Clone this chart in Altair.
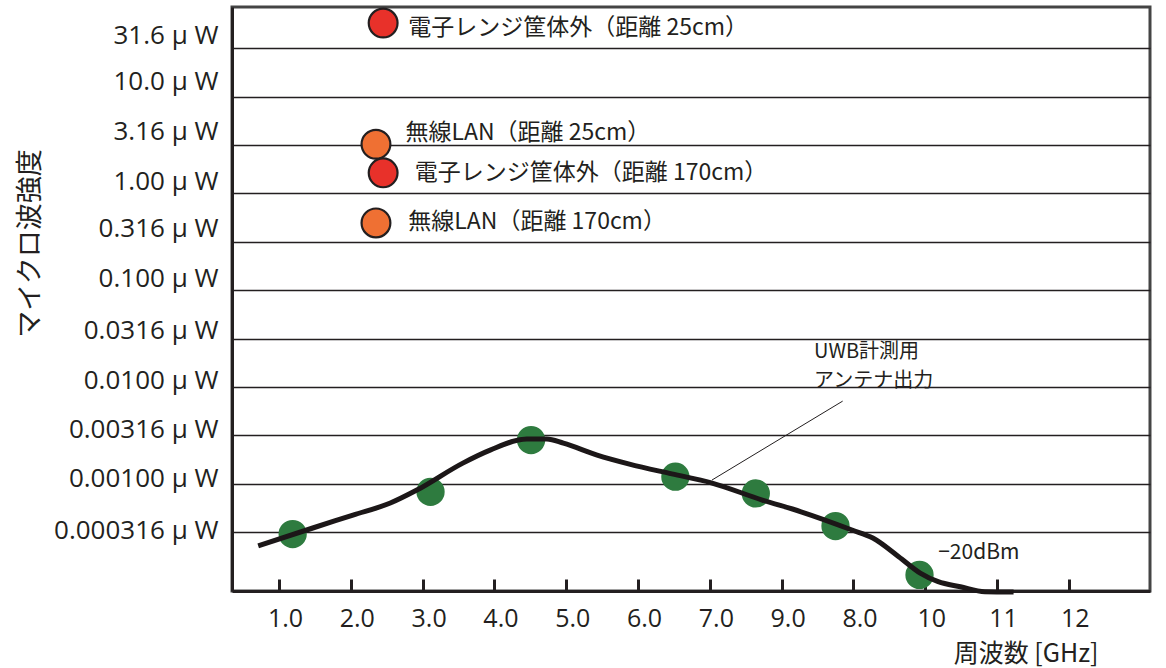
import altair as alt
import pandas as pd

INK = "#231f20"

# UWB antenna output: measured points (GHz, microwatts)
uwb_freq = [1.19, 3.11, 4.51, 6.52, 7.64, 8.75, 9.92]
uwb_power = [0.000301, 0.000824, 0.00282, 0.00118, 0.000793, 0.000364, 0.000114]

# smoothed trend of the UWB output
curve_freq = [0.71, 1.47, 2.03, 2.55, 2.92, 3.56, 3.94, 4.45, 4.73, 4.96, 5.43, 5.88,
              6.47, 7.02, 7.73, 8.27, 8.98, 9.27, 9.63, 9.93, 10.18, 10.49, 10.83, 11.23]
curve_power = [0.000228, 0.000348, 0.000473, 0.000630, 0.000858, 0.00163, 0.00222,
               0.00289, 0.00289, 0.00262, 0.00197, 0.00159, 0.00126, 0.00102,
               0.000677, 0.000512, 0.000332, 0.000274, 0.000176, 0.000119,
               0.0000969, 0.0000860, 0.0000765, 0.0000760]

# interference sources around 2.4 GHz
src_names = ["電子レンジ筐体外（距離 25cm）", "無線LAN（距離 25cm）",
             "電子レンジ筐体外（距離 170cm）", "無線LAN（距離 170cm）"]
src_kind = ["oven", "lan", "oven", "lan"]
src_freq = [2.45, 2.35, 2.45, 2.35]
src_power = [57.6, 3.22, 1.63, 0.495]
src_label_freq = [2.80, 2.76, 2.89, 2.80]
src_label_power = [50.9, 4.18, 1.62, 0.503]

# axis ticks
x_tick_values = list(range(1, 13))
x_tick_labels = ["1.0", "2.0", "3.0", "4.0", "5.0", "6.0", "7.0", "9.0", "8.0", "10", "11", "12"]
# lowest to highest
y_tick_values = [0.000316, 0.001, 0.00316, 0.01, 0.0316, 0.1, 0.316, 1.0, 3.16, 10.0, 31.6]
y_tick_labels = ["0.000316 μ W", "0.00100 μ W", "0.00316 μ W", "0.0100 μ W", "0.0316 μ W",
                 "0.100 μ W", "0.316 μ W", "1.00 μ W", "3.16 μ W", "10.0 μ W", "31.6 μ W"]
y_label_shift = [-2, -5, -6, -6, -8, -12, -13, -12, -14, -15, -13]

# annotations
note_lines = ["UWB計測用", "アンテナ出力"]
note_freq = [8.45, 8.45]
note_power = [0.0228, 0.0114]
level_text = ["−20dBm"]
level_freq = [10.18]
level_power = [0.000192]
pointer_from = (8.85, 0.00713)
pointer_to = (7.03, 0.00109)

uwb = pd.DataFrame({"f": uwb_freq, "p": uwb_power})
curve = pd.DataFrame({"f": curve_freq, "p": curve_power})
src = pd.DataFrame({"name": src_names, "kind": src_kind, "f": src_freq, "p": src_power,
                    "lf": src_label_freq, "lp": src_label_power})
notes = pd.DataFrame({"t": note_lines + level_text,
                      "f": note_freq + level_freq,
                      "p": note_power + level_power,
                      "size": ["note", "note", "level"]})
pointer = pd.DataFrame({"f": [pointer_from[0]], "p": [pointer_from[1]],
                        "f2": [pointer_to[0]], "p2": [pointer_to[1]]})

idx = "(round(2*log(datum.value)/LN10) + 7)"
y_label_expr = "[" + ",".join(f"'{s}'" for s in y_tick_labels) + "][" + idx + "]"
y_offset_expr = "[" + ",".join(str(v) for v in y_label_shift) + "][" + idx + "]"
x_label_expr = "[" + ",".join(f"'{s}'" for s in x_tick_labels) + "][round(datum.value) - 1]"

x_scale = alt.Scale(domain=[0.345, 13.13], nice=False, zero=False)
y_scale = alt.Scale(type="log", domain=[7.77e-5, 84.4], nice=False)

x_axis = alt.Axis(
    values=x_tick_values, labelExpr=x_label_expr, grid=False,
    domainColor=INK, domainWidth=3, tickColor=INK, tickWidth=3,
    tickSize={"expr": "-12"}, labelPadding=27, labelOffset=6,
    labelFont="Open Sans", labelFontSize=25, labelColor=INK,
    title="周波数 [GHz]", titleFont="Noto Sans CJK JP", titleFontSize=25,
    titleFontWeight="normal", titleColor=INK, titleX=866, titleY=62,
    titleAlign="right", titleBaseline="middle", titleAngle=0,
)
y_axis = alt.Axis(
    values=y_tick_values, labelExpr=y_label_expr, grid=True,
    gridColor=INK, gridWidth=1.3, ticks=False,
    domainColor=INK, domainWidth=3, labelPadding=14,
    labelOffset={"expr": y_offset_expr}, labelBaseline="middle",
    labelFont="Open Sans", labelFontSize=26, labelColor=INK,
    title="マイクロ波強度", titleFont="Noto Sans CJK JP", titleFontSize=27,
    titleFontWeight="normal", titleColor=INK, titleX=-202, titleY=236,
    titleAlign="center", titleBaseline="middle", titleAngle=-90,
)

X = lambda f="f": alt.X(f"{f}:Q", scale=x_scale, axis=x_axis)
Y = lambda p="p": alt.Y(f"{p}:Q", scale=y_scale, axis=y_axis)

pointer_rule = alt.Chart(pointer).mark_rule(color=INK, strokeWidth=1).encode(
    x=X(), y=Y(), x2="f2:Q", y2="p2:Q")

uwb_dots = alt.Chart(uwb).mark_circle(size=800, color="#2e7b3f", opacity=1).encode(x=X(), y=Y())

uwb_curve = alt.Chart(curve).mark_line(
    color="#1c1718", strokeWidth=5, interpolate="monotone", clip=False
).encode(x=X(), y=Y(), order="f:Q")

src_dots = alt.Chart(src).mark_circle(size=830, opacity=1, stroke=INK, strokeWidth=2.2).encode(
    x=X(), y=Y(),
    color=alt.Color("kind:N", scale=alt.Scale(domain=["oven", "lan"], range=["#e8312a", "#ef7033"]),
                    legend=None))

src_text = alt.Chart(src).mark_text(
    align="left", baseline="middle", font="Noto Sans CJK JP", fontSize=23, color=INK
).encode(x=X("lf"), y=Y("lp"), text="name:N")

note_text = alt.Chart(notes).mark_text(
    align="left", baseline="middle", font="Noto Sans CJK JP", color=INK
).encode(
    x=X(), y=Y(), text="t:N",
    size=alt.Size("size:N", scale=alt.Scale(domain=["note", "level"], range=[20, 21]), legend=None))

chart = alt.layer(
    pointer_rule, uwb_dots, uwb_curve, src_dots, src_text, note_text
).properties(
    width=918, height=584,
    padding={"left": 232, "top": 7, "right": 16, "bottom": 77},
    autosize=alt.AutoSizeParams(type="none"),
    background="white",
).configure_view(stroke="#444444", strokeWidth=3)

chart.save("out.html", embed_options={"renderer": "svg", "actions": False})
